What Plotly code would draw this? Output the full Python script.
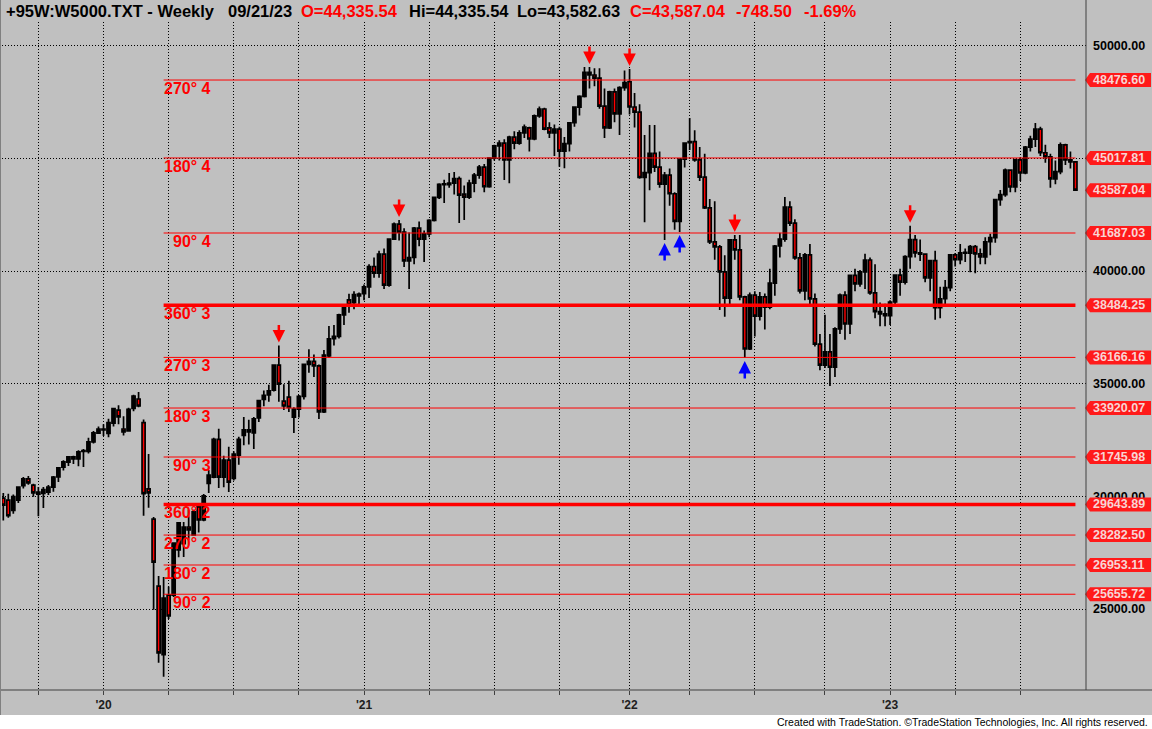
import pandas as pd
import plotly.graph_objects as go

# weekly bars of the Wilshire 5000, week ending Friday, first bar 2019-08-16
first_week = "2019-08-16"

opens = [
    29920, 29830, 29380, 29830, 30470, 30780, 30500, 30190, 30130, 30190,
    30410, 30860, 31300, 31520, 31750, 31660, 32030, 32000, 32420, 32810,
    # 2020
    32990, 32790, 33250, 33830, 32990, 32900, 33900, 34320, 33270, 30330,
    28990, 26020, 22970, 25620, 25620, 27620, 27900, 28640, 28290, 29530,
    28950, 30570, 30850, 32530, 30850, 31610, 30800, 31830, 32700, 32950,
    32820, 33480, 34300, 34500, 34710, 35820, 34230, 34400, 33510, 33870,
    34440, 35860, 35990, 35790, 33750, 36230, 37000, 37100, 38050, 38720,
    38600, 38900,
    # 2021
    39000, 39300, 40200, 39910, 40750, 39370, 41420, 42080, 41730, 40450,
    40600, 41900, 41410, 41650, 42250, 43270, 43870, 43830, 43900, 44100,
    43410, 43280, 43900, 44260, 44610, 43740, 45010, 45550, 45680, 44930,
    45940, 45680, 46130, 46350, 45860, 46890, 47190, 46350, 46130, 46300,
    45320, 45650, 46580, 47270, 47750, 48820, 48700, 48560, 47320, 46350,
    47950, 46970, 48140,
    # 2022
    48400, 47280, 47050, 44150, 44370, 45220, 44610, 43860, 44260, 43430,
    42200, 44970, 45700, 45740, 44930, 44170, 42800, 41290, 41070, 39960,
    38800, 41380, 40940, 38850, 36540, 38930, 38000, 38850, 38400, 39460,
    41110, 41420, 42840, 42130, 40580, 39120, 40720, 38760, 36760, 35820,
    36410, 35730, 37430, 38930, 37650, 39810, 39430, 39960, 40490, 39030,
    38200, 38100,
    # 2023
    38020, 38625, 39820, 39510, 40640, 41390, 40810, 40750, 39700, 40460,
    38370, 38770, 39260, 40720, 40500, 40830, 40790, 41080, 40760, 40630,
    41300, 41480, 43170, 43390, 44480, 43730, 44930, 44350, 45500, 45850,
    46300, 45250, 45070, 44090, 44410, 45600, 44930, 44840,
]

highs = [
    30150, 30110, 30080, 30450, 30860, 30900, 30560, 30410, 30420, 30500,
    30900, 31300, 31600, 31780, 31800, 32050, 32100, 32600, 32900, 33100,
    # 2020
    33200, 33440, 33920, 34040, 33560, 33930, 34510, 34630, 33410, 31880,
    29080, 26470, 26420, 26000, 27960, 28850, 28860, 29400, 29400, 29650,
    30100, 31170, 32600, 33000, 31800, 32200, 32000, 32650, 33520, 33400,
    33520, 34270, 34700, 34950, 35850, 36690, 34980, 35130, 33950, 34500,
    35900, 36530, 36300, 35850, 36500, 37560, 37600, 38100, 38500, 38990,
    39100, 39050,
    # 2021
    39400, 40300, 40600, 40900, 41000, 41450, 42150, 42260, 41900, 41710,
    41950, 42200, 41800, 42300, 43300, 43900, 44050, 44350, 44400, 44200,
    43800, 44050, 44350, 44700, 44750, 45050, 45600, 45800, 45850, 46000,
    46200, 46250, 46500, 46400, 46950, 47300, 47250, 46600, 46500, 46400,
    45950, 46600, 47300, 47800, 49050, 49050, 49000, 49000, 48100, 48000,
    48100, 48200, 48900,
    # 2022
    48970, 47900, 47400, 46040, 46480, 46480, 45300, 44400, 44550, 43500,
    45000, 45700, 46790, 46250, 45500, 45200, 43200, 43100, 41150, 40700,
    41400, 41600, 41600, 38900, 39050, 39100, 39070, 39000, 40100, 41150,
    41700, 43290, 43100, 42300, 40800, 40800, 41200, 39000, 37200, 38060,
    37200, 37500, 39000, 39100, 39850, 40100, 40050, 40770, 40600, 40300,
    38600, 38550,
    # 2023
    38700, 39850, 40100, 40700, 42010, 41600, 41400, 40780, 40500, 40900,
    39300, 39600, 40750, 40800, 41200, 41000, 41150, 41150, 41000, 41500,
    41650, 43200, 43600, 44550, 44500, 44980, 45050, 45550, 46000, 46570,
    46400, 45600, 45200, 44900, 45700, 45650, 45300, 44840,
]

lows = [
    28930, 29050, 29230, 29700, 30350, 30520, 29980, 29120, 29480, 30060,
    30200, 30640, 31150, 31350, 31440, 31340, 31300, 31900, 32350, 32780,
    # 2020
    32680, 32620, 33100, 33200, 32700, 32880, 33780, 33950, 29140, 29490,
    24970, 22610, 21990, 24560, 25530, 27300, 27310, 28050, 28250, 28400,
    28900, 30150, 30800, 30370, 30400, 30190, 30700, 31400, 32270, 32300,
    32100, 33300, 34000, 34200, 34650, 34200, 33830, 33740, 32810, 33500,
    34300, 35480, 35300, 33430, 33700, 36150, 36700, 37000, 37600, 38150,
    38300, 38450,
    # 2021
    38700, 38800, 39700, 39700, 39200, 39300, 41400, 41350, 40180, 39200,
    40300, 41100, 40400, 41500, 42200, 43200, 43020, 43700, 43400, 42130,
    42260, 43200, 43500, 44100, 43500, 43700, 44900, 44900, 44040, 43900,
    45400, 45600, 45900, 45300, 45800, 46800, 46250, 45900, 45100, 44630,
    44560, 45300, 46400, 46900, 47700, 48100, 48200, 47200, 45900, 46300,
    46600, 46040, 48000,
    # 2022
    46950, 46370, 44100, 42170, 43590, 44400, 43700, 41380, 42900, 41830,
    41730, 44600, 45370, 44850, 44000, 42750, 41200, 40500, 38270, 37970,
    38500, 40500, 38700, 36140, 36500, 37090, 37800, 37400, 38300, 38900,
    40600, 41300, 42000, 40500, 39000, 38700, 38400, 36650, 35600, 35700,
    34900, 35300, 37200, 36950, 37200, 39100, 39300, 39200, 38950, 37900,
    37550, 37550,
    # 2023
    37600, 38400, 38900, 39400, 40100, 40600, 40450, 39500, 39100, 37840,
    37900, 38500, 39100, 40200, 40300, 40400, 39950, 39900, 40300, 40300,
    40700, 41250, 42900, 43300, 43500, 43500, 44000, 44300, 45300, 45500,
    45100, 44800, 43700, 43850, 44300, 44700, 44550, 43582.63,
]

closes = [
    29610, 29140, 29990, 30410, 30780, 30600, 30150, 30100, 30300, 30410,
    30860, 31260, 31530, 31750, 31660, 31980, 31990, 32420, 32820, 32990,
    # 2020
    32950, 33270, 33900, 33530, 32860, 33860, 34450, 34010, 30120, 30150,
    27080, 23050, 25490, 24690, 27920, 28820, 28640, 28510, 29310, 28950,
    30020, 30940, 32530, 30850, 31610, 30630, 31880, 32530, 32950, 32860,
    33440, 34250, 34480, 34680, 35820, 34980, 34010, 33950, 33870, 34440,
    35860, 35990, 35790, 33750, 36270, 36990, 37100, 38050, 38450, 38500,
    38950, 38980,
    # 2021
    39300, 40200, 39910, 40750, 39370, 41420, 42080, 41730, 40450, 40600,
    41900, 41410, 41650, 42250, 43270, 43850, 43830, 43900, 44100, 43370,
    43280, 43900, 44260, 44610, 43740, 45010, 45550, 45680, 44930, 45940,
    45680, 46130, 46390, 45860, 46890, 47190, 46300, 46130, 46300, 45320,
    45650, 46580, 47270, 47750, 48820, 48700, 48560, 47320, 46350, 47950,
    46970, 48140, 48360,
    # 2022
    47280, 47050, 44150, 44370, 45220, 44610, 43860, 44260, 43430, 42200,
    44970, 45680, 45740, 44930, 44170, 42800, 41290, 41070, 39960, 38800,
    41380, 40940, 38850, 36540, 38930, 38000, 38850, 38400, 39460, 41110,
    41420, 42840, 42130, 40580, 39120, 40720, 38760, 36760, 35820, 36410,
    35730, 37430, 38930, 37650, 39810, 39430, 39960, 40490, 39030, 38200,
    38100, 38020,
    # 2023
    38625, 39820, 39510, 40640, 41390, 40810, 40750, 39700, 40460, 38370,
    38770, 39260, 40720, 40500, 40810, 40790, 41080, 40760, 40630, 41300,
    41480, 43170, 43390, 44480, 43730, 44930, 44350, 45500, 45850, 46300,
    45250, 45070, 44090, 44410, 45600, 44930, 44840, 43587.04,
]

# gann levels projected from the march 2020 low
level_start = "2020-03-27"
level_values = [48476.60, 45017.81, 41687.03, 38484.25, 36166.16, 33920.07,
                31745.98, 29643.89, 28282.50, 26953.11, 25655.72]
level_names = ["270° 4", "180° 4", "90° 4", "360° 3", "270° 3", "180° 3",
               "90° 3", "360° 2", "270° 2", "180° 2", "90° 2"]

# marked swing highs / lows
top_marks = ["2020-09-04", "2021-02-19", "2021-11-12", "2022-01-07",
             "2022-06-03", "2023-02-03"]
bottom_marks = ["2022-02-25", "2022-03-18", "2022-06-17"]

quarter_ticks = ["2019-10-04", "2020-01-03", "2020-04-03", "2020-07-03",
                 "2020-10-02", "2021-01-01", "2021-04-02", "2021-07-02",
                 "2021-10-01", "2022-01-07", "2022-04-01", "2022-07-01",
                 "2022-10-07", "2023-01-06", "2023-04-07", "2023-07-07"]
quarter_labels = ["", "'20", "", "", "", "'21", "", "", "",
                  "'22", "", "", "", "'23", "", ""]
price_ticks = [25000, 30000, 35000, 40000, 45000, 50000]

dates = pd.date_range(first_week, periods=len(closes), freq="W-FRI")

W, H = 1152, 729
ML, MR, MT, MB = 2, 66, 22, 39
PW = W - ML - MR
PH = H - MT - MB
FONT = "Liberation Sans, Arial, sans-serif"
RED = "#ff0000"
GRAY = "#c0c0c0"


def px_x(px):
    return (px - ML) / PW


def px_y(py):
    return (H - MB - py) / PH


# pixel scale of the original chart
anchor = pd.Timestamp("2020-01-03")
px_per_day = 5.01 / 7
x_lo = anchor - pd.Timedelta(days=(103.5 - ML) / px_per_day)
x_hi = anchor + pd.Timedelta(days=(W - MR - 103.5) / px_per_day)
pts_per_px = 44.38
y_hi = 50000 + (45.7 - MT) * pts_per_px
y_lo = 50000 - (H - MB - 45.7) * pts_per_px

fig = go.Figure()
fig.add_trace(go.Candlestick(
    x=dates, open=opens, high=highs, low=lows, close=closes,
    increasing=dict(line=dict(color="black", width=1.7), fillcolor="black"),
    decreasing=dict(line=dict(color="black", width=1.7), fillcolor=RED),
    whiskerwidth=0, showlegend=False, hoverinfo="x+y",
))

shapes = []
annotations = []

# level lines + labels
for val, name in zip(level_values, level_names):
    thick = name.startswith("360")
    shapes.append(dict(type="line", xref="x", yref="y", x0=level_start, x1=dates[-1],
                       y0=val, y1=val, layer="above",
                       line=dict(color=RED, width=3.5 if thick else 1)))
    annotations.append(dict(xref="paper", yref="y", x=px_x(213), y=val,
                            xanchor="right", yanchor="top", yshift=2,
                            text="<b>%s</b>" % name, showarrow=False,
                            font=dict(family=FONT, size=16, color=RED)))

# price tags on the right axis
half = 7 * pts_per_px
for val in level_values + [closes[-1]]:
    xt, xb, xr = px_x(1085), px_x(1090), px_x(1151)
    shapes.append(dict(type="path", xref="paper", yref="y", layer="above",
                       path="M %f,%f L %f,%f L %f,%f L %f,%f L %f,%f Z" % (
                           xt, val, xb, val + half, xr, val + half, xr, val - half, xb, val - half),
                       fillcolor="#ff1a1a", line=dict(width=0)))
    annotations.append(dict(xref="paper", yref="y", x=px_x(1091), y=val,
                            xanchor="left", yanchor="middle", showarrow=False,
                            text="<b>%.2f</b>" % val,
                            font=dict(family=FONT, size=12.5, color="#f8d4d4")))

# arrows at swing points
for d in top_marks:
    i = dates.get_loc(pd.Timestamp(d))
    annotations.append(dict(xref="x", yref="y", x=dates[i], y=highs[i], text="",
                            showarrow=True, ax=0, ay=-22, standoff=3,
                            arrowhead=2, arrowsize=1, arrowwidth=2.5, arrowcolor=RED))
for d in bottom_marks:
    i = dates.get_loc(pd.Timestamp(d))
    annotations.append(dict(xref="x", yref="y", x=dates[i], y=lows[i], text="",
                            showarrow=True, ax=0, ay=22, standoff=3,
                            arrowhead=2, arrowsize=1, arrowwidth=2.5, arrowcolor="#0000ff"))

# header line
header = [
    (4, "+95W:W5000.TXT - Weekly", "black"),
    (226, "09/21/23", "black"),
    (299, "O=44,335.54", RED),
    (407, "Hi=44,335.54", "black"),
    (515, "Lo=43,582.63", "black"),
    (628, "C=43,587.04", RED),
    (734, "-748.50", RED),
    (802, "-1.69%", RED),
]
for xp, txt, col in header:
    annotations.append(dict(xref="paper", yref="paper", x=px_x(xp), y=px_y(11),
                            xanchor="left", yanchor="middle", showarrow=False,
                            text="<b>%s</b>" % txt,
                            font=dict(family=FONT, size=16.5, color=col)))

annotations.append(dict(xref="paper", yref="paper", x=px_x(1150), y=px_y(722),
                        xanchor="right", yanchor="middle", showarrow=False,
                        text="Created with TradeStation. ©TradeStation Technologies, Inc. All rights reserved.",
                        font=dict(family=FONT, size=10.5, color="black")))

# frame: white footer, axis lines
shapes.append(dict(type="rect", xref="paper", yref="paper", x0=px_x(-2), x1=px_x(W + 2),
                   y0=px_y(H + 2), y1=px_y(715), fillcolor="white", line=dict(width=0),
                   layer="above"))
shapes.append(dict(type="line", xref="paper", yref="paper", x0=px_x(0), x1=px_x(W),
                   y0=px_y(690), y1=px_y(690), line=dict(color="#404040", width=1),
                   layer="above"))
shapes.append(dict(type="line", xref="paper", yref="paper", x0=px_x(1086), x1=px_x(1086),
                   y0=px_y(690), y1=px_y(0), line=dict(color="#404040", width=1),
                   layer="above"))
shapes.append(dict(type="line", xref="paper", yref="paper", x0=px_x(0.5), x1=px_x(0.5),
                   y0=px_y(715), y1=px_y(0), line=dict(color="#808080", width=1),
                   layer="above"))

fig.update_layout(
    width=W, height=H,
    margin=dict(l=ML, r=MR, t=MT, b=MB),
    paper_bgcolor=GRAY, plot_bgcolor=GRAY,
    boxgap=0.12,
    showlegend=False,
    shapes=shapes,
    annotations=annotations,
    xaxis=dict(
        type="date", range=[x_lo, x_hi],
        tickmode="array", tickvals=quarter_ticks, ticktext=quarter_labels,
        showgrid=True, gridcolor="black", gridwidth=1, griddash="1px,2px",
        ticks="outside", ticklen=4, tickcolor="#404040",
        showline=False, zeroline=False,
        tickfont=dict(family=FONT, size=12, color="#202020", weight="bold"),
        rangeslider=dict(visible=False),
    ),
    yaxis=dict(
        side="right", range=[y_lo, y_hi],
        tickmode="array", tickvals=price_ticks,
        ticktext=["%.2f" % v for v in price_ticks],
        showgrid=True, gridcolor="black", gridwidth=1, griddash="1px,2px",
        ticks="", ticklabelstandoff=6, zeroline=False, showline=False,
        tickfont=dict(family=FONT, size=12.5, color="black", weight="bold"),
    ),
)

# page has a default 8px body margin; drop it so the chart sits at 0,0
fig.write_html("out.html", config={"displayModeBar": False},
               post_script="document.body.style.margin='0';"
                           "document.body.style.overflow='hidden';")
